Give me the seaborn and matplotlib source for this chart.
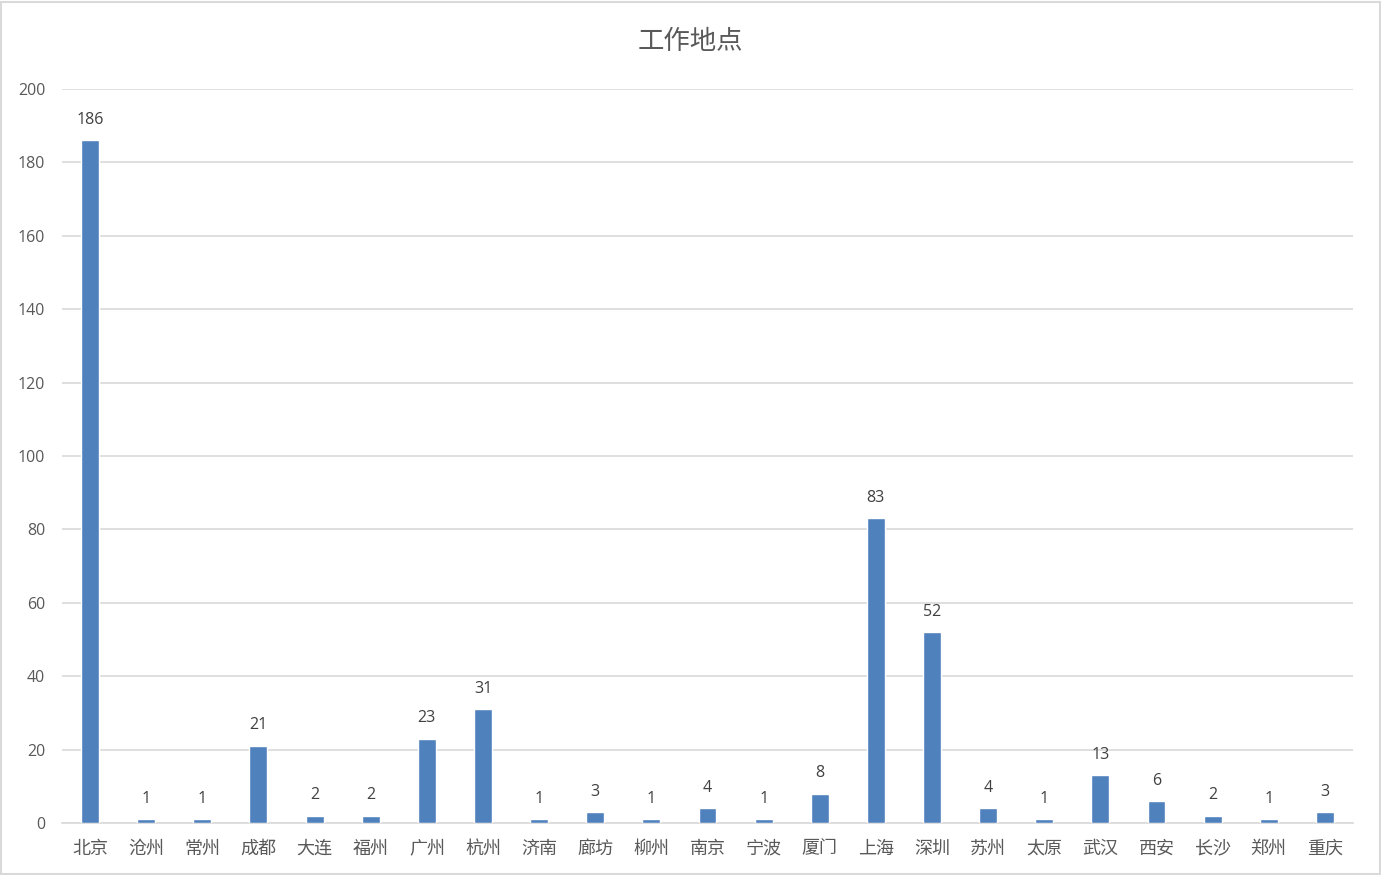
import matplotlib
matplotlib.use('Agg')
import matplotlib.pyplot as plt
import seaborn as sns
import pandas as pd

# Data
cities = ['北京', '沧州', '常州', '成都', '大连', '福州', '广州', '杭州', '济南', '廊坊',
          '柳州', '南京', '宁波', '厦门', '上海', '深圳', '苏州', '太原', '武汉', '西安',
          '长沙', '郑州', '重庆']
counts = [186, 1, 1, 21, 2, 2, 23, 31, 1, 3, 1, 4, 1, 8, 83, 52, 4, 1, 13, 6, 2, 1, 3]
y_ticks = [0, 20, 40, 60, 80, 100, 120, 140, 160, 180, 200]

df = pd.DataFrame({'city': cities, 'count': counts})

sns.set_style('white')
plt.rcParams['font.family'] = ['Noto Sans CJK SC', 'DejaVu Sans']

fig = plt.figure(figsize=(13.81, 8.75), dpi=100)
ax = fig.add_axes([0.0449, 0.0594, 0.9348, 0.8389])

sns.barplot(x='city', y='count', data=df, color='#4F81BD', width=0.32,
            saturation=1, errorbar=None, ax=ax, zorder=3)

# Value labels
for container in ax.containers:
    ax.bar_label(container, padding=9, fontsize=11.5, color='#404040',
                 family=['Open Sans', 'DejaVu Sans'])

ax.set_ylim(0, 200)
ax.set_yticks(y_ticks)
ax.set_xlim(-0.5, len(cities) - 0.5)
ax.yaxis.grid(True, color='#D9D9D9', linewidth=1.2, zorder=0)
ax.set_axisbelow(True)
for side in ['top', 'right', 'left']:
    ax.spines[side].set_visible(False)
ax.spines['bottom'].set_color('#D9D9D9')
ax.spines['bottom'].set_linewidth(1.2)
ax.tick_params(axis='both', length=0, colors='#595959')
ax.tick_params(axis='y', labelsize=11.5, pad=12)
ax.tick_params(axis='x', labelsize=13, pad=12)
for lbl in ax.get_yticklabels():
    lbl.set_family(['Open Sans', 'DejaVu Sans'])
ax.set_xlabel('')
ax.set_ylabel('')

fig.suptitle('工作地点', fontsize=19, color='#595959', y=0.968)

# Light border around the chart area
fig.patches.append(plt.Rectangle((0.001, 0.001), 0.998, 0.997, transform=fig.transFigure,
                                 fill=False, edgecolor='#D9D9D9', linewidth=1.5))

fig.savefig('out.png', dpi=100)
